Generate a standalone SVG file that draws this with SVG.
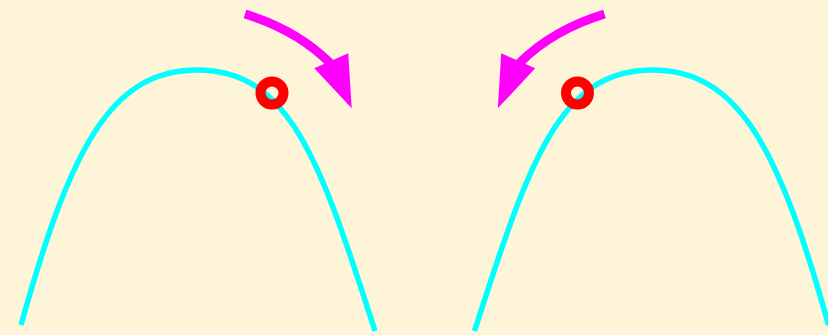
<svg xmlns="http://www.w3.org/2000/svg" width="828" height="335" viewBox="0 0 828 335">
  <style>
    .curve { fill: none; stroke: #00ffff; stroke-width: 5.5; }
    .ring { fill: none; stroke: #ff0000; stroke-width: 10; }
    .shaft { fill: none; stroke: #ff00ff; stroke-width: 9; }
    .head { fill: #ff00ff; stroke: none; }
  </style>
  <rect width="828" height="335" fill="#fef5d8"/>
  <g id="left-panel">
    <path id="left-curve" class="curve" d="M21,325 C70,150 110,70 197,70 C290,70 320,160 375,331"/>
    <g id="left-arrow">
      <path class="shaft" d="M245,14 Q297,30 330,63"/>
      <polygon class="head" points="314.3,68.3 348.3,53.3 351.7,108.3"/>
    </g>
    <circle id="left-ring" class="ring" cx="272" cy="93" r="11.5"/>
  </g>
  <g id="right-panel" transform="matrix(-1 0 0 1 849.5 0)">
    <path id="right-curve" class="curve" d="M21,325 C70,150 110,70 197,70 C290,70 320,160 375,331"/>
    <g id="right-arrow">
      <path class="shaft" d="M245,14 Q297,30 330,63"/>
      <polygon class="head" points="314.3,68.3 348.3,53.3 351.7,108.3"/>
    </g>
    <circle id="right-ring" class="ring" cx="272" cy="93" r="11.5"/>
  </g>
</svg>
